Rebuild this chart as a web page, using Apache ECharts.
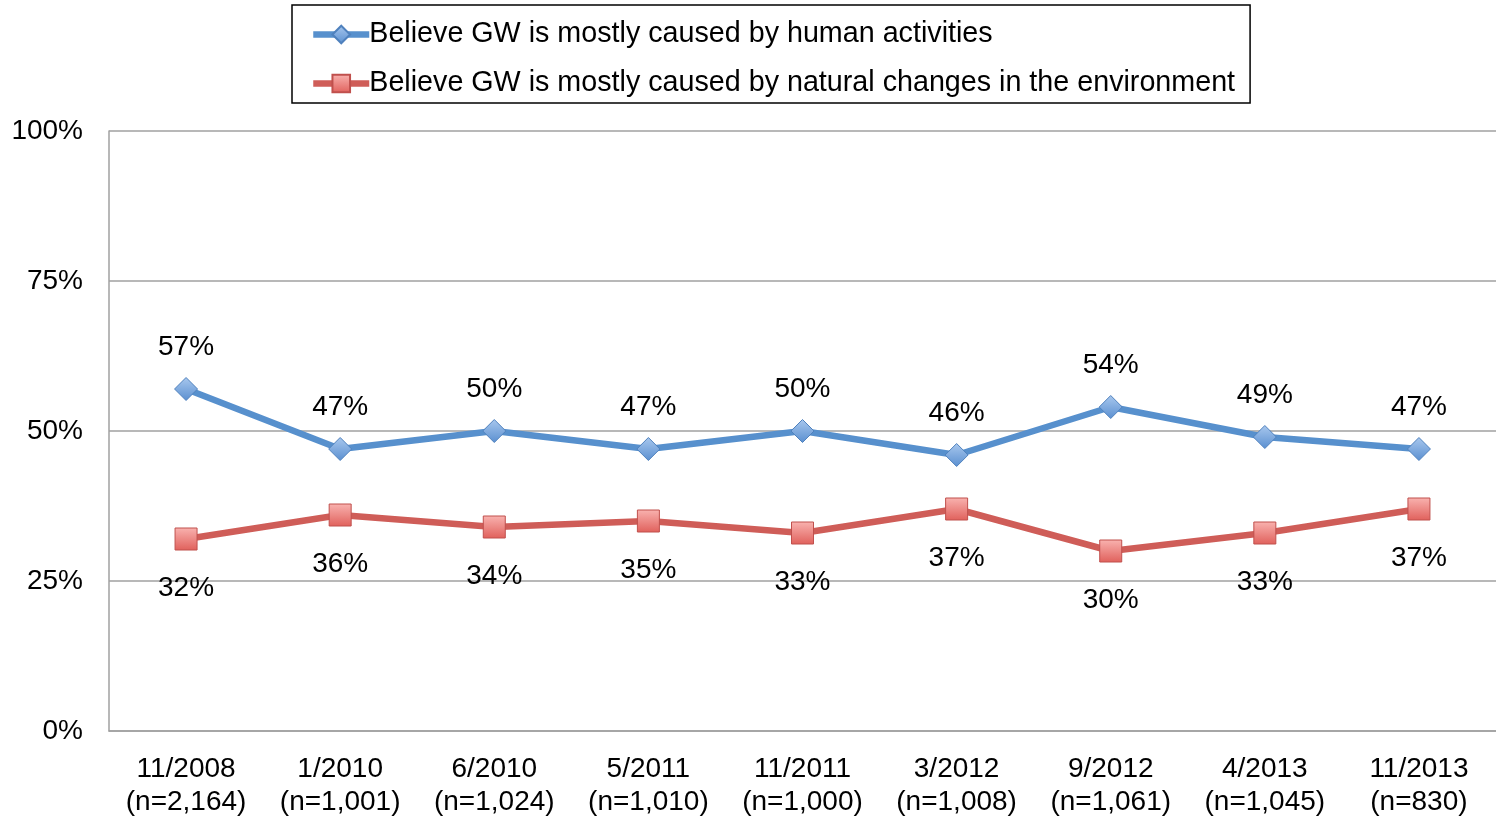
<!DOCTYPE html>
<html><head><meta charset="utf-8">
<script src="https://cdn.jsdelivr.net/npm/echarts@6/dist/echarts.min.js"></script>
<style>html,body{margin:0;padding:0;background:#fff;overflow:hidden}#c{width:100vw;height:100vh}</style>
</head><body><div id="c"></div>
<script>
const categories = ['11/2008\n(n=2,164)','1/2010\n(n=1,001)','6/2010\n(n=1,024)','5/2011\n(n=1,010)','11/2011\n(n=1,000)','3/2012\n(n=1,008)','9/2012\n(n=1,061)','4/2013\n(n=1,045)','11/2013\n(n=830)'];
const humanName = 'Believe GW is mostly caused by human activities';
const naturalName = 'Believe GW is mostly caused by natural changes in the environment';
const human = [57,47,50,47,50,46,54,49,47];
const natural = [32,36,34,35,33,37,30,33,37];
const yTicks = [0,25,50,75,100];

const font = 'Liberation Sans, Arial, sans-serif';
const chart = echarts.init(document.getElementById('c'), null, {renderer:'canvas'});
chart.setOption({
  animation:false,
  textStyle:{fontFamily:font},
  grid:{left:109,right:-1,top:131,bottom:86,containLabel:false},
  legend:{
    orient:'vertical', left:292, top:5,
    padding:[15,15,5,18], itemGap:20,
    borderColor:'#000', borderWidth:1.5, borderRadius:0,
    itemWidth:56, itemHeight:22,
    lineStyle:{width:6.5},
    textStyle:{fontSize:28.7,color:'#000',fontFamily:font,padding:[0,0,0,-5]},
    data:[humanName,naturalName]
  },
  xAxis:{
    type:'category', data:categories, boundaryGap:true,
    axisLine:{lineStyle:{color:'#A0A0A0',width:1.5}},
    axisTick:{alignWithLabel:true,inside:true,length:7,lineStyle:{color:'#A0A0A0',width:1.5}},
    axisLabel:{fontSize:28,color:'#000',lineHeight:33,margin:22,fontFamily:font,interval:0}
  },
  yAxis:{
    type:'value', min:0, max:100, interval:25,
    axisLine:{show:true,lineStyle:{color:'#A0A0A0',width:1.5}},
    axisTick:{show:false},
    splitLine:{lineStyle:{color:'#A0A0A0',width:1.5}},
    axisLabel:{fontSize:28,color:'#000',margin:26,fontFamily:font,formatter:v=>v+'%'}
  },
  series:[
    {name:humanName,type:'line',data:human,symbol:'diamond',symbolSize:[23,23],
     lineStyle:{color:'#5790CD',width:6.5},
     itemStyle:{color:new echarts.graphic.LinearGradient(0,0,0,1,[{offset:0,color:'#A9C8EE'},{offset:1,color:'#5A8FD0'}]),borderColor:'#4F81BD',borderWidth:1},
     label:{show:true,position:'top',distance:16,fontSize:28,color:'#000',fontFamily:font,formatter:p=>p.value+'%'}
    },
    {name:naturalName,type:'line',data:natural,symbol:'rect',symbolSize:[22,22],
     lineStyle:{color:'#CF5D58',width:6.5},
     itemStyle:{color:new echarts.graphic.LinearGradient(0,0,0,1,[{offset:0,color:'#F9B3B0'},{offset:1,color:'#E0605B'}]),borderColor:'#C0504D',borderWidth:1},
     label:{show:true,position:'bottom',distance:24,fontSize:28,color:'#000',fontFamily:font,formatter:p=>p.value+'%'}
    }
  ]
});
</script></body></html>
